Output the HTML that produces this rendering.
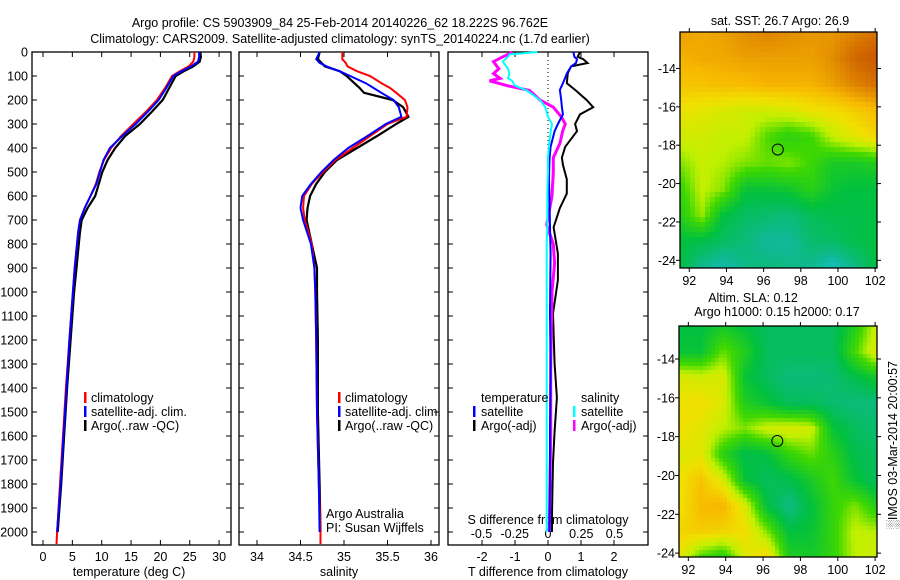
<!DOCTYPE html>
<html><head><meta charset="utf-8"><style>
html,body{margin:0;padding:0;background:#fff;}
svg text{font-family:"Liberation Sans",sans-serif;font-size:12.5px;fill:#000;}
#wrap{position:relative;width:900px;height:580px;overflow:hidden;}
canvas{position:absolute;image-rendering:pixelated;}
</style></head><body>
<div id="wrap">
<canvas id="sstmap" width="197" height="236" style="left:680px;top:32px;width:197px;height:236px;"></canvas>
<canvas id="slamap" width="198" height="231" style="left:679px;top:326px;width:198px;height:231px;"></canvas>
<svg id="fig" width="900" height="580" style="position:absolute;left:0;top:0;"></svg>
</div>
<script>
// ---------- data ----------
const tDepth=[0,20,40,60,80,100,150,200,250,300,350,400,450,500,550,600,650,700,750,800,900,1000,1200,1400,1600,1800,2000];
const tArgo=[26.8,26.9,26.7,25.6,24,22.6,21.5,20.4,18.5,16.5,14,12.3,11,10.1,9.5,8.9,7.6,6.6,6.3,6.1,5.7,5.3,4.7,4.1,3.6,3.1,2.5];
const tSat=[26.6,26.6,26.4,25.2,23.6,22.2,21,19.7,17.8,15.8,13.5,11.4,10.3,9.7,9.1,8.1,7.1,6.3,6.0,5.8,5.4,5.1,4.5,4.0,3.5,3.0,2.4];
const tClimDepth=[0,20,40,60,80,100,150,200,250,300,350,400,450,500,550,600,650,700,750,800,900,1000,1200,1400,1600,1800,2000,2050];
const tClim=[25.8,25.8,25.6,24.8,23.3,22,20.8,19.4,17.5,15.4,13.3,11.6,10.4,9.6,9,8.1,7.1,6.3,6.0,5.8,5.4,5.1,4.5,3.9,3.4,2.9,2.4,2.3];
const sDepth=[0,30,45,60,80,100,130,150,170,200,230,270,300,350,400,450,500,550,600,650,700,800,900,1000,1200,1500,1800,2000];
const sArgo=[34.72,34.7,34.74,34.78,34.95,35.03,35.12,35.18,35.23,35.56,35.68,35.74,35.6,35.38,35.15,34.92,34.78,34.68,34.61,34.58,34.57,34.63,34.69,34.69,34.70,34.70,34.72,34.73];
const sSat=[34.72,34.68,34.72,34.8,34.95,35.07,35.25,35.34,35.43,35.57,35.63,35.66,35.48,35.27,35.05,34.88,34.74,34.62,34.52,34.50,34.53,34.62,34.66,34.67,34.68,34.69,34.71,34.72];
const sClimDepth=[0,30,45,60,80,100,130,150,170,200,230,270,300,350,400,450,500,550,600,650,700,800,900,1000,1200,1500,1800,2000,2050];
const sClim=[34.98,34.98,35.02,35.04,35.15,35.3,35.43,35.53,35.6,35.7,35.73,35.72,35.5,35.3,35.1,34.9,34.76,34.63,34.54,34.53,34.55,34.63,34.66,34.67,34.68,34.69,34.71,34.73,34.73];
const dTDepth=[0,20,30,46,60,88,130,158,200,230,260,300,330,395,440,470,530,590,650,730,840,950,1090,1300,1440,1580,1710,1920,2000];
const dTArgo=[0.97,0.9,1.07,1.2,0.7,0.6,0.57,0.82,1.17,1.37,0.97,0.82,0.88,0.52,0.42,0.45,0.57,0.57,0.36,0.17,0.3,0.3,0.15,0.2,0.27,0.2,0.15,0.12,0.12];
const dTSat=[0.77,0.8,0.88,0.85,0.7,0.58,0.45,0.36,0.4,0.42,0.45,0.3,0.2,0.08,0.05,0.04,0.03,0.04,0.05,0.06,0.08,0.07,0.06,0.08,0.07,0.06,0.06,0.05,0.05];
const dSDepth=[0,10,20,40,70,90,110,120,140,160,200,230,270,300,330,380,440,500,600,720,800,880,1000,1300,1600,2000];
const dSArgo=[-0.27,-0.3,-0.34,-0.41,-0.37,-0.41,-0.36,-0.44,-0.31,-0.14,-0.06,0.04,0.1,0.13,0.11,0.09,0.04,0.04,0.03,-0.01,0.04,0.05,0.03,0.02,0.02,0.01];
const dSSat=[-0.08,-0.29,-0.3,-0.34,-0.3,-0.29,-0.3,-0.27,-0.25,-0.16,-0.06,-0.02,0.0,0.03,0.02,0.01,0.0,0,-0.005,-0.005,-0.01,-0.01,-0.01,-0.01,-0.01,-0.01];
const depthTicks=[0,100,200,300,400,500,600,700,800,900,1000,1100,1200,1300,1400,1500,1600,1700,1800,1900,2000];
const tTicks=[0,5,10,15,20,25,30];
const sTicks=[34,34.5,35,35.5,36];
const dTTicks=[-2,-1,0,1,2];
const dSTicks=[-0.5,-0.25,0,0.25,0.5];
const dSTickLabels=["-0.5","-0.25","0","0.25","0.5"];
const latTicks=[-14,-16,-18,-20,-22,-24];
const lonTicks=[92,94,96,98,100,102];
const argoLon=96.762, argoLat=-18.222;
// SST grid rows top(-12.1) -> bottom(-24.4), cols 91.5 -> 102.1 (colormap index 0..1)
const sstGrid=[
[0.80,0.78,0.80,0.84,0.86,0.84,0.82,0.82,0.86,0.90],
[0.76,0.78,0.78,0.80,0.80,0.80,0.80,0.84,0.92,0.95],
[0.72,0.72,0.74,0.74,0.76,0.76,0.76,0.80,0.86,0.90],
[0.64,0.62,0.60,0.58,0.58,0.60,0.64,0.66,0.70,0.74],
[0.58,0.58,0.56,0.56,0.46,0.40,0.44,0.56,0.62,0.68],
[0.50,0.56,0.54,0.50,0.48,0.50,0.44,0.36,0.36,0.38],
[0.42,0.56,0.50,0.32,0.32,0.34,0.40,0.32,0.30,0.30],
[0.38,0.52,0.30,0.24,0.22,0.20,0.26,0.28,0.28,0.30],
[0.30,0.28,0.24,0.20,0.14,0.14,0.22,0.24,0.28,0.30],
[0.30,0.16,0.10,0.18,0.20,0.18,0.16,0.06,0.18,0.30]];
const slaGrid=[
[0.30,0.30,0.35,0.30,0.25,0.25,0.25,0.25,0.38,0.58],
[0.32,0.32,0.48,0.38,0.25,0.25,0.25,0.25,0.45,0.62],
[0.60,0.58,0.60,0.32,0.25,0.20,0.20,0.22,0.28,0.35],
[0.64,0.66,0.60,0.38,0.32,0.25,0.25,0.22,0.20,0.20],
[0.66,0.62,0.55,0.50,0.58,0.60,0.58,0.32,0.25,0.22],
[0.60,0.62,0.40,0.28,0.30,0.42,0.48,0.40,0.28,0.25],
[0.64,0.72,0.60,0.32,0.25,0.28,0.36,0.44,0.32,0.25],
[0.64,0.74,0.76,0.60,0.30,0.18,0.30,0.42,0.50,0.38],
[0.68,0.70,0.68,0.66,0.50,0.30,0.32,0.42,0.56,0.54],
[0.64,0.45,0.38,0.60,0.68,0.38,0.35,0.42,0.55,0.58]];

// ---------- helpers ----------
const NS="http://www.w3.org/2000/svg";
const svg=document.getElementById('fig');
function mk(tag,attrs,parent){const e=document.createElementNS(NS,tag);for(const k in attrs)e.setAttribute(k,attrs[k]);(parent||svg).appendChild(e);return e;}
function txt(x,y,s,anchor,parent,size){const t=mk('text',{x:x,y:y,'text-anchor':anchor||'start'},parent);if(size)t.setAttribute('style','font-size:'+size+'px');t.textContent=s;return t;}
const Y0=52, PXM=0.24, YB=545;
function yD(d){return Y0+d*PXM;}
function poly(xs,ds,xf,color,w,name){
  const pts=xs.map((v,i)=>xf(v).toFixed(1)+','+yD(ds[i]).toFixed(1)).join(' ');
  const p=mk('polyline',{points:pts,fill:'none',stroke:color,'stroke-width':w,'stroke-linejoin':'miter'});
  
  
  return p;
}
function frame(x0,x1,name){
  const r=mk('rect',{x:x0,y:Y0,width:x1-x0,height:YB-Y0,fill:'none',stroke:'#000','stroke-width':1.3});
  
  
  depthTicks.forEach(d=>{mk('line',{x1:x0,x2:x0+5,y1:yD(d),y2:yD(d),stroke:'#000'});mk('line',{x1:x1-5,x2:x1,y1:yD(d),y2:yD(d),stroke:'#000'});});
}
function legendMark(x,y,color){mk('rect',{x:x,y:y-10,width:2.5,height:11,fill:color});}

// ---------- titles ----------
let t=txt(340,27,'Argo profile: CS 5903909_84 25-Feb-2014 20140226_62 18.222S 96.762E','middle');

t=txt(340,43,'Climatology: CARS2009. Satellite-adjusted climatology: synTS_20140224.nc (1.7d earlier)','middle');


// depth labels
depthTicks.forEach(d=>{const l=txt(28,yD(d)+4.5,String(d),'end');});

// ---------- panel 1 temperature ----------
function xT(v){return 43+v*5.87;}
frame(32,231,'temperature-axes');
tTicks.forEach(v=>{mk('line',{x1:xT(v),x2:xT(v),y1:Y0,y2:Y0+5,stroke:'#000'});mk('line',{x1:xT(v),x2:xT(v),y1:YB-5,y2:YB,stroke:'#000'});
  const l=txt(xT(v),561,String(v),'middle');});
t=txt(129,576,'temperature (deg C)','middle');
poly(tArgo,tDepth,xT,'#000',2.2,'temperature-argo-line');
poly(tClim,tClimDepth,xT,'#f00',2,'temperature-climatology-line');
poly(tSat,tDepth,xT,'#00f',2,'temperature-satellite-line');
[['climatology','#f00'],['satellite-adj. clim.','#00f'],['Argo(..raw -QC)','#000']].forEach((e,i)=>{
  const g=mk('g',{});
  legendMark(84,402+i*14,e[1]);txt(91,402+i*14,e[0],'start',g);});

// ---------- panel 2 salinity ----------
function xS(v){return 257+(v-34)*87;}
frame(239,439,'salinity-axes');
sTicks.forEach(v=>{mk('line',{x1:xS(v),x2:xS(v),y1:Y0,y2:Y0+5,stroke:'#000'});mk('line',{x1:xS(v),x2:xS(v),y1:YB-5,y2:YB,stroke:'#000'});
  const l=txt(xS(v),561,String(v),'middle');});
t=txt(339,576,'salinity','middle');
poly(sArgo,sDepth,xS,'#000',2.2,'salinity-argo-line');
poly(sClim,sClimDepth,xS,'#f00',2,'salinity-climatology-line');
poly(sSat,sDepth,xS,'#00f',2,'salinity-satellite-line');
[['climatology','#f00'],['satellite-adj. clim.','#00f'],['Argo(..raw -QC)','#000']].forEach((e,i)=>{
  const g=mk('g',{});
  legendMark(338,402+i*14,e[1]);txt(345,402+i*14,e[0],'start',g);});
t=txt(326,518,'Argo Australia');
t=txt(326,532,'PI: Susan Wijffels');

// ---------- panel 3 differences ----------
function xDT(v){return 548+v*33;}
function xDS(v){return 548+v*133;}
frame(448,648,'difference-axes');
dTTicks.forEach(v=>{mk('line',{x1:xDT(v),x2:xDT(v),y1:Y0,y2:Y0+5,stroke:'#000'});mk('line',{x1:xDT(v),x2:xDT(v),y1:YB-5,y2:YB,stroke:'#000'});
  const l=txt(xDT(v),561,String(v),'middle');});
dSTicks.forEach((v,i)=>{const l=txt(xDS(v),538,dSTickLabels[i],'middle');});
t=txt(548,524,'S difference from climatology','middle');
t=txt(548,576,'T difference from climatology','middle');
let z=mk('line',{x1:548,x2:548,y1:Y0,y2:yD(420),stroke:'#000','stroke-dasharray':'1,3'});

poly(dTArgo,dTDepth,xDT,'#000',2,'t-diff-argo-line');
poly(dSArgo,dSDepth,xDS,'#f0f',3,'s-diff-argo-line');
poly(dTSat,dTDepth,xDT,'#00f',2,'t-diff-satellite-line');
poly(dSSat,dSDepth,xDS,'#0ff',2,'s-diff-satellite-line');
t=txt(481,402,'temperature');
t=txt(581,402,'salinity');
[['satellite','#00f',473],['Argo(-adj)','#000',473],['satellite','#0ff',573],['Argo(-adj)','#f0f',573]].forEach((e,i)=>{
  const g=mk('g',{});
  const yy=416+(i%2)*14;legendMark(e[2],yy,e[1]);txt(e[2]+8,yy,e[0],'start',g);});

// ---------- maps ----------
const stops=[[0,[24,200,216]],[0.15,[16,184,150]],[0.3,[0,192,64]],[0.45,[64,216,0]],[0.55,[192,240,0]],[0.65,[240,224,0]],[0.75,[248,184,0]],[0.85,[224,136,0]],[1,[192,64,0]]];
function cmap(v){for(let i=1;i<stops.length;i++){if(v<=stops[i][0]){const a=stops[i-1],b=stops[i],f=(v-a[0])/(b[0]-a[0]);return a[1].map((c,k)=>Math.round(c+(b[1][k]-c)*f));}}return stops[stops.length-1][1];}
function drawMap(id,grid,cell){
  const c=document.getElementById(id),ctx=c.getContext('2d'),W=c.width,H=c.height,R=grid.length,C=grid[0].length;
  for(let y=0;y<H;y+=cell)for(let x=0;x<W;x+=cell){
    const gx=Math.min((x+cell/2)/W,1)*(C-1),gy=Math.min((y+cell/2)/H,1)*(R-1);
    const i=Math.min(Math.floor(gy),R-2),j=Math.min(Math.floor(gx),C-2),fy=gy-i,fx=gx-j;
    const v=grid[i][j]*(1-fx)*(1-fy)+grid[i][j+1]*fx*(1-fy)+grid[i+1][j]*(1-fx)*fy+grid[i+1][j+1]*fx*fy;
    const col=cmap(v);ctx.fillStyle='rgb('+col.join(',')+')';ctx.fillRect(x,y,cell+1,cell+1);}
}
drawMap('sstmap',sstGrid,5);
drawMap('slamap',slaGrid,4);
function mapAxes(m,name){
  const lonX=v=>m.x0+(v-91.5)/(102.1-91.5)*(m.x1-m.x0);
  const latY=v=>m.y0+(m.latTop-v)/(m.latTop-m.latBot)*(m.y1-m.y0);
  const r=mk('rect',{x:m.x0,y:m.y0,width:m.x1-m.x0,height:m.y1-m.y0,fill:'none',stroke:'#000','stroke-width':1.3});
  
  lonTicks.forEach(v=>{mk('line',{x1:lonX(v),x2:lonX(v),y1:m.y0-4,y2:m.y0,stroke:'#000'});mk('line',{x1:lonX(v),x2:lonX(v),y1:m.y1,y2:m.y1+4,stroke:'#000'});
    const l=txt(lonX(v),m.y1+17,String(v),'middle');});
  latTicks.forEach(v=>{mk('line',{x1:m.x0-4,x2:m.x0,y1:latY(v),y2:latY(v),stroke:'#000'});mk('line',{x1:m.x1,x2:m.x1+4,y1:latY(v),y2:latY(v),stroke:'#000'});
    const l=txt(m.x0-4,latY(v)+4.5,String(v),'end');});
  const c=mk('circle',{cx:lonX(argoLon),cy:latY(argoLat),r:5.5,fill:'none',stroke:'#000','stroke-width':1});
  
}
mapAxes({x0:680,x1:877,y0:32,y1:268,latTop:-12.1,latBot:-24.4},'sst-map');
mapAxes({x0:679,x1:877,y0:326,y1:557,latTop:-12.3,latBot:-24.2},'sla-map');
t=txt(780,25,'sat. SST: 26.7 Argo: 26.9','middle');
t=txt(753,302,'Altim. SLA: 0.12','middle');
t=txt(777,316,'Argo h1000: 0.15 h2000: 0.17','middle');
t=mk('text',{x:0,y:0,'text-anchor':'middle',transform:'translate(897,445) rotate(-90)'});t.textContent='\u2591IMOS 03-Mar-2014 20:00:57';

</script>
</body></html>
